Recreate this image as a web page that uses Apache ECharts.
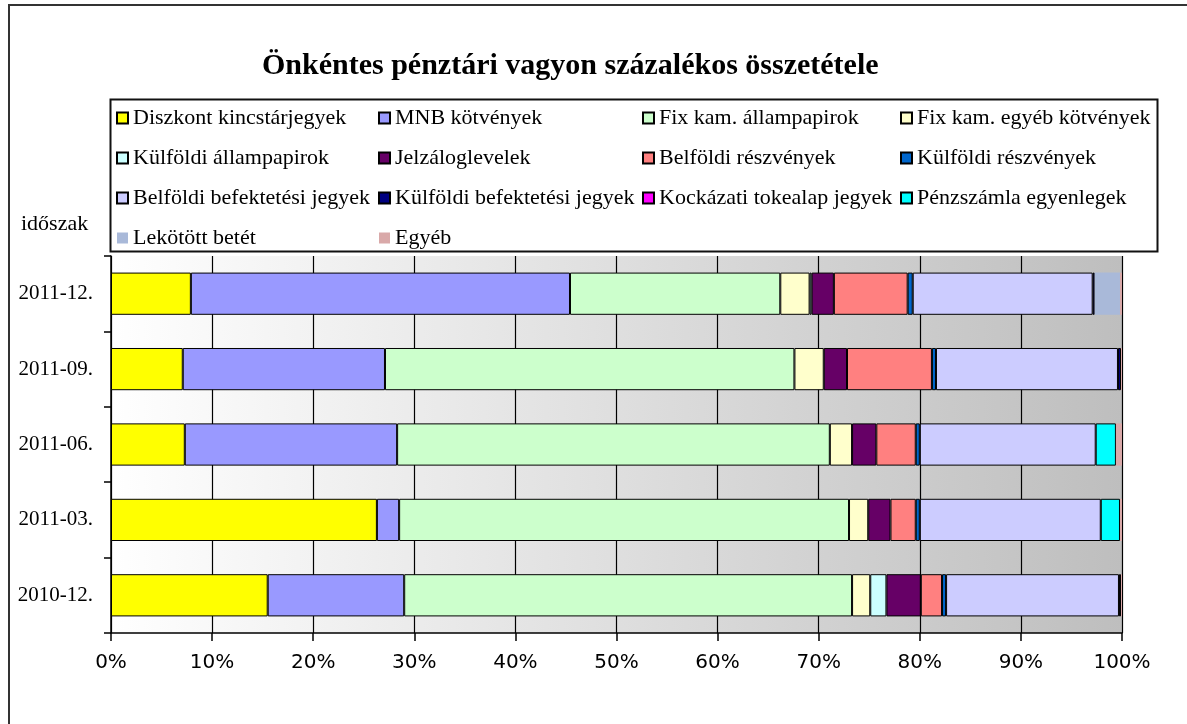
<!DOCTYPE html>
<html>
<head>
<meta charset="utf-8">
<script src="https://cdn.jsdelivr.net/npm/echarts@6/dist/echarts.min.js"></script>
<style>
  html, body { margin: 0; padding: 0; background: #fff; }
  #chart { width: 1187px; height: 724px; }
</style>
</head>
<body>
<div id="chart"></div>
<script>
// ---- Data (percent of total) ----
const categories = ['2010-12.', '2011-03.', '2011-06.', '2011-09.', '2011-12.'];
const xTicks = [0, 10, 20, 30, 40, 50, 60, 70, 80, 90, 100];

const diszkont   = [15.5, 26.3, 7.3, 7.1, 7.9];
const mnb        = [13.5, 2.2, 21.0, 20.0, 37.5];
const fixAll     = [44.3, 44.5, 42.8, 40.5, 20.8];
const fixEgyeb   = [1.8, 1.9, 2.2, 2.9, 2.9];
const kulfAll    = [1.6, 0, 0, 0, 0.2];
const jelzalog   = [3.4, 2.2, 2.4, 2.3, 2.2];
const belfReszv  = [2.1, 2.5, 3.9, 8.4, 7.3];
const kulfReszv  = [0.4, 0.4, 0.4, 0.4, 0.5];
const belfBef    = [17.1, 17.9, 17.4, 18.0, 17.8];
const kulfBef    = [0.2, 0, 0, 0.3, 0.2];
const kockazati  = [0, 0, 0, 0, 0];
const penzszamla = [0, 1.9, 2.0, 0, 0];
const lekotott   = [0, 0, 0, 0, 2.5];
const egyeb      = [0.1, 0.2, 0.6, 0.1, 0.2];

const seriesDefs = [
  { name: 'Diszkont kincstárjegyek',       data: diszkont,   color: '#FFFF00', border: true },
  { name: 'MNB kötvények',                 data: mnb,        color: '#9999FF', border: true },
  { name: 'Fix kam. állampapirok',         data: fixAll,     color: '#CCFFCC', border: true },
  { name: 'Fix kam. egyéb kötvények',      data: fixEgyeb,   color: '#FFFFCC', border: true },
  { name: 'Külföldi állampapirok',         data: kulfAll,    color: '#CCFFFF', border: true },
  { name: 'Jelzáloglevelek',               data: jelzalog,   color: '#660066', border: true },
  { name: 'Belföldi részvények',           data: belfReszv,  color: '#FF8080', border: true },
  { name: 'Külföldi részvények',           data: kulfReszv,  color: '#0066CC', border: true },
  { name: 'Belföldi befektetési jegyek',   data: belfBef,    color: '#CCCCFF', border: true },
  { name: 'Külföldi befektetési jegyek',   data: kulfBef,    color: '#000080', border: true },
  { name: 'Kockázati tokealap jegyek',     data: kockazati,  color: '#FF00FF', border: true },
  { name: 'Pénzszámla egyenlegek',         data: penzszamla, color: '#00FFFF', border: true },
  { name: 'Lekötött betét',                data: lekotott,   color: '#A9B9D9', border: false },
  { name: 'Egyéb',                         data: egyeb,      color: '#D9A9A9', border: false }
];

const legendCols = [
  ['Diszkont kincstárjegyek', 'Külföldi állampapirok', 'Belföldi befektetési jegyek', 'Lekötött betét'],
  ['MNB kötvények', 'Jelzáloglevelek', 'Külföldi befektetési jegyek', 'Egyéb'],
  ['Fix kam. állampapirok', 'Belföldi részvények', 'Kockázati tokealap jegyek'],
  ['Fix kam. egyéb kötvények', 'Külföldi részvények', 'Pénzszámla egyenlegek']
];
const legendColX = [116, 378, 642, 900];

const SERIF = "'Liberation Serif', 'Times New Roman', serif";

const chart = echarts.init(document.getElementById('chart'), null, { renderer: 'canvas' });

const series = seriesDefs.map(s => ({
  name: s.name,
  type: 'bar',
  stack: 'total',
  barCategoryGap: '44%',
  data: s.data.map(v => (v === 0 ? '-' : v)),
  itemStyle: {
    color: s.color,
    borderColor: s.border ? '#000' : s.color,
    borderWidth: s.border ? 1 : 0
  },
  emphasis: { disabled: true },
  silent: true
}));

const legends = legendCols.map((col, i) => ({
  show: true,
  orient: 'vertical',
  left: legendColX[i],
  top: 107,
  padding: 0,
  itemWidth: 11,
  itemHeight: 11,
  itemGap: 18,
  itemTextGap: 3,
  selectedMode: false,
  icon: 'rect',
  data: col,
  textStyle: { fontFamily: SERIF, fontSize: 22, color: '#000', lineHeight: 22 }
}));

chart.setOption({
  animation: false,
  backgroundColor: '#fff',
  title: {
    text: 'Önkéntes pénztári vagyon százalékos összetétele',
    left: 262,
    top: 51,
    padding: 0,
    textStyle: { fontFamily: SERIF, fontSize: 30, fontWeight: 'bold', color: '#000' }
  },
  legend: legends,
  grid: {
    left: 111,
    right: 65,
    top: 256,
    bottom: 91,
    show: true,
    borderWidth: 0,
    backgroundColor: {
      type: 'linear', x: 0, y: 0, x2: 1, y2: 0,
      colorStops: [{ offset: 0, color: '#FFFFFF' }, { offset: 1, color: '#BEBEBE' }]
    }
  },
  xAxis: {
    type: 'value',
    min: xTicks[0],
    max: xTicks[xTicks.length - 1],
    interval: xTicks[1] - xTicks[0],
    axisLine: { show: true, lineStyle: { color: '#000', width: 1.5 } },
    axisTick: { show: true, length: 8, lineStyle: { color: '#000', width: 1.5 } },
    splitLine: { show: true, lineStyle: { color: '#000', width: 1.2 } },
    axisLabel: {
      formatter: '{value}%',
      fontFamily: "'DejaVu Sans', sans-serif",
      fontSize: 20,
      color: '#000',
      margin: 20
    }
  },
  yAxis: {
    type: 'category',
    data: categories,
    axisLine: { show: true, lineStyle: { color: '#000', width: 1.5 } },
    axisTick: { show: true, length: 7, lineStyle: { color: '#000', width: 1.5 } },
    axisLabel: { fontFamily: SERIF, fontSize: 21, color: '#000', margin: 18 }
  },
  graphic: [
    {
      type: 'rect',
      shape: { x: 9, y: 5, width: 1200, height: 800 },
      style: { fill: 'none', stroke: '#333', lineWidth: 2 },
      silent: true, z: 100
    },
    {
      type: 'rect',
      shape: { x: 110.5, y: 99.5, width: 1047, height: 152 },
      style: { fill: '#fff', stroke: '#111', lineWidth: 2 },
      silent: true, z: -1, zlevel: 0
    },
    {
      type: 'text',
      left: 21,
      top: 213,
      style: { text: 'időszak', fontFamily: SERIF, fontSize: 22, fill: '#000' },
      silent: true
    }
  ],
  series: series
});
</script>
</body>
</html>
